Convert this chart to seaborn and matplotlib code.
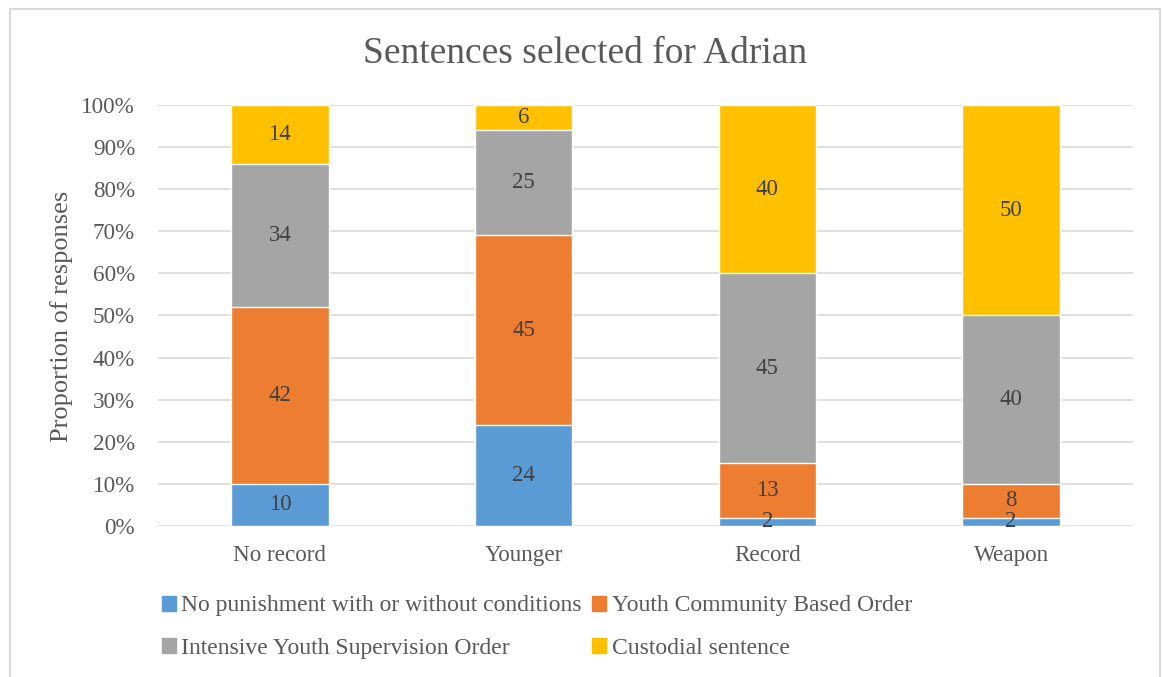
import numpy as np
import pandas as pd
import matplotlib
matplotlib.use("Agg")
import matplotlib.pyplot as plt
from matplotlib.patches import Rectangle
import seaborn as sns

scenarios = ["No record", "Younger", "Record", "Weapon"]
series = ["No punishment with or without conditions", "Youth Community Based Order",
          "Intensive Youth Supervision Order", "Custodial sentence"]
no_punishment = [10, 24, 2, 2]
community = [42, 45, 13, 8]
supervision = [34, 25, 45, 40]
custodial = [14, 6, 40, 50]
colors = ["#5B9BD5", "#ED7D31", "#A5A5A5", "#FFC000"]

sns.set_style("white")
plt.rcParams["font.family"] = ["Liberation Serif", "DejaVu Serif"]

values = np.array([no_punishment, community, supervision, custodial], dtype=float)
cum = np.cumsum(values, axis=0)

fig = plt.figure(figsize=(11.62, 6.77), dpi=100)
ax = fig.add_axes([0.136, 0.223, 0.839, 0.622])

# draw cumulative bars from the top series down so they stack visually
for i in range(len(series) - 1, -1, -1):
    df = pd.DataFrame({"scenario": scenarios, "value": cum[i]})
    sns.barplot(data=df, x="scenario", y="value", color=colors[i], width=0.4,
                saturation=1, ax=ax, zorder=2)

# segment labels
for i in range(len(series)):
    for j in range(len(scenarios)):
        mid = cum[i, j] - values[i, j] / 2
        ax.text(j, mid, f"{int(values[i, j])}", ha="center", va="center",
                fontsize=16.5, color="#404040", zorder=3)

ax.set_ylim(0, 100)
ax.set_xlim(-0.5, 3.5)
ax.set_yticks(np.arange(0, 101, 10))
ax.set_yticklabels([f"{t}%" for t in range(0, 101, 10)])
ax.yaxis.grid(True, color="#D9D9D9", linewidth=1.2, zorder=0)
ax.set_axisbelow(True)
for s in ax.spines.values():
    s.set_visible(False)
ax.tick_params(axis="both", length=0, labelsize=16.7, colors="#595959")
ax.tick_params(axis="y", pad=16.5)
ax.tick_params(axis="x", pad=14)
ax.set_xlabel("")
ax.set_ylabel("")
fig.text(62 / 1162, 1 - 316 / 677, "Proportion of responses", rotation=90,
         ha="center", va="center", fontsize=19, color="#595959")
fig.text(585 / 1162, 1 - 54 / 677, "Sentences selected for Adrian", ha="center",
         va="center", fontsize=27, color="#595959")

# legend filled row by row: reorder for matplotlib's column-first layout
order = [0, 2, 1, 3]
handles = [Rectangle((0, 0), 1, 1, color=colors[k]) for k in order]
labels = [series[k] for k in order]
fig.legend(handles, labels, loc="center left", bbox_to_anchor=(150 / 1162, 1 - 627 / 677),
           ncol=2, frameon=False, fontsize=17, labelcolor="#595959", borderpad=0,
           handlelength=0.6, handleheight=0.6, handletextpad=0.22,
           columnspacing=0.45, labelspacing=0.9)

fig.add_artist(Rectangle((10 / 1162, -0.01), 1150 / 1162, 1 - 9 / 677 + 0.01,
                         transform=fig.transFigure, fill=False, edgecolor="#D9D9D9",
                         linewidth=1.5))

fig.savefig("out.png", dpi=100, facecolor="white")
